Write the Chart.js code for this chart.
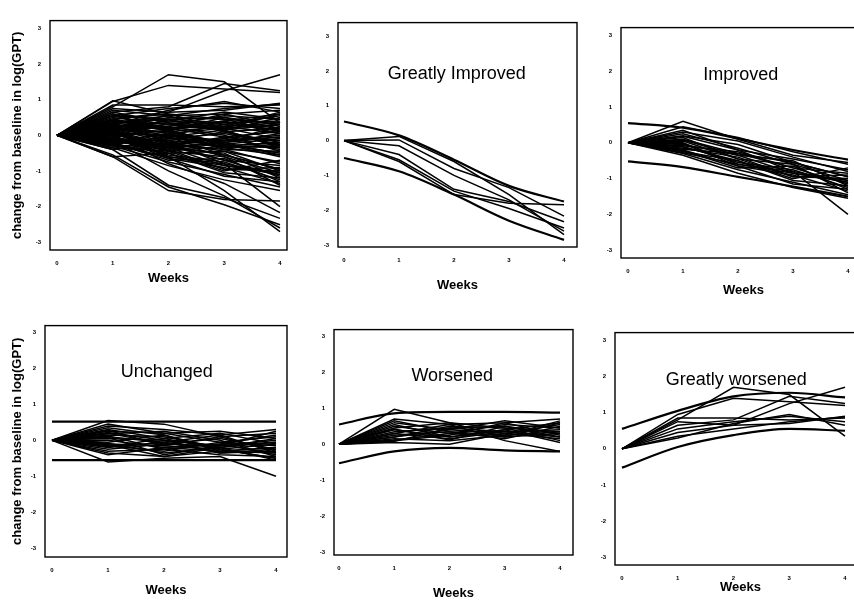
<!DOCTYPE html>
<html lang="en">
<head>
<meta charset="UTF-8">
<title>Change from baseline in log(GPT)</title>
<style>
    body {
        margin: 0;
        background: #fff;
        width: 854px;
        height: 602px;
        overflow: hidden;
        position: relative;
    }
    canvas {
        position: absolute;
    }
</style>
</head>
<body>
<script src="https://cdn.jsdelivr.net/npm/chart.js@4.4.1/dist/chart.umd.min.js"></script>
<script>
    // x axis: weeks, y axis ticks
    const weeks = [0, 1, 2, 3, 4];
    const yTicks = [3, 2, 1, 0, -1, -2, -3];

    // patient profiles (value at week 0..4), by outcome group
    const greatlyImproved = [
        [0, 0.12, -0.60, -1.55, -2.70],
        [0, 0.02, -0.80, -1.35, -2.17],
        [0, -0.40, -1.40, -1.75, -2.33],
        [0, -0.55, -1.45, -1.95, -2.51],
        [0, -0.60, -1.55, -1.80, -1.84],
        [0, -0.15, -1.00, -1.70, -2.60],
    ];
    const improved = [
        [0, 0.60, 0.10, -0.35, -0.55],
        [0, 0.45, 0.15, -0.25, -0.60],
        [0, 0.35, -0.20, -0.45, -0.75],
        [0, 0.20, -0.05, -0.55, -0.95],
        [0, 0.10, -0.30, -0.70, -0.85],
        [0, 0.05, -0.45, -0.60, -1.05],
        [0, -0.05, -0.35, -0.85, -1.10],
        [0, -0.10, -0.55, -0.75, -1.25],
        [0, -0.15, -0.40, -0.95, -0.90],
        [0, -0.20, -0.65, -0.90, -1.35],
        [0, -0.25, -0.50, -1.05, -1.20],
        [0, -0.30, -0.75, -1.10, -1.45],
        [0, -0.35, -0.85, -1.25, -1.55],
        [0, 0.00, -0.60, -0.80, -2.00],
        [0, -0.08, -0.25, -0.70, -1.15],
        [0, 0.15, -0.45, -0.95, -1.00],
        [0, -0.22, -0.70, -0.65, -1.30],
        [0, 0.25, -0.15, -0.60, -1.40],
        [0, -0.12, -0.50, -1.00, -0.70],
        [0, -0.28, -0.60, -0.85, -1.05],
        [0, 0.08, -0.35, -0.50, -1.20],
        [0, 0.30, 0.05, -0.40, -0.80],
        [0, -0.18, -0.30, -0.55, -0.95],
        [0, -0.02, -0.65, -1.15, -1.30],
        [0, 0.18, -0.20, -0.80, -1.10],
    ];
    const unchanged = [
        [0, 0.55, 0.45, 0.10, 0.20],
        [0, 0.40, 0.30, 0.15, 0.30],
        [0, 0.30, 0.05, 0.20, -0.10],
        [0, 0.25, 0.20, -0.05, 0.10],
        [0, 0.20, -0.10, 0.05, -0.25],
        [0, 0.15, 0.10, -0.20, 0.05],
        [0, 0.10, -0.05, 0.15, -0.35],
        [0, 0.05, 0.00, -0.15, -0.05],
        [0, 0.00, -0.20, -0.10, -0.40],
        [0, -0.05, 0.15, -0.30, -0.20],
        [0, -0.10, -0.15, -0.25, -0.50],
        [0, -0.15, -0.30, -0.05, -0.15],
        [0, -0.20, -0.05, -0.35, -0.30],
        [0, -0.30, -0.25, -0.40, -0.45],
        [0, -0.35, -0.45, -0.20, -0.55],
        [0, -0.60, -0.50, -0.45, -1.00],
        [0, 0.35, 0.15, -0.25, -0.10],
        [0, 0.12, -0.25, -0.10, 0.15],
        [0, -0.25, -0.10, -0.15, 0.00],
        [0, 0.22, 0.00, -0.35, -0.25],
        [0, -0.08, -0.35, -0.20, -0.05],
        [0, 0.18, 0.25, 0.00, -0.45],
        [0, -0.40, -0.20, -0.30, -0.35],
        [0, 0.08, -0.40, -0.15, 0.25],
        [0, -0.18, 0.05, -0.25, -0.50],
        [0, 0.45, 0.20, 0.25, 0.05],
        [0, -0.12, -0.45, -0.30, -0.20],
        [0, 0.28, -0.15, 0.10, -0.30],
    ];
    const worsened = [
        [0, 0.97, 0.60, 0.45, 0.35],
        [0, 0.70, 0.55, 0.60, 0.70],
        [0, 0.60, 0.40, 0.30, 0.55],
        [0, 0.50, 0.30, 0.55, 0.45],
        [0, 0.45, 0.60, 0.20, 0.30],
        [0, 0.40, 0.20, 0.40, 0.60],
        [0, 0.35, 0.45, 0.50, 0.20],
        [0, 0.30, 0.15, 0.35, 0.40],
        [0, 0.25, 0.35, 0.15, 0.50],
        [0, 0.20, 0.50, 0.45, 0.10],
        [0, 0.15, 0.10, 0.25, 0.35],
        [0, 0.10, 0.25, 0.60, 0.25],
        [0, 0.05, 0.00, 0.30, 0.15],
        [0, 0.30, 0.55, 0.10, -0.20],
        [0, 0.55, 0.20, 0.40, 0.05],
        [0, 0.20, 0.40, 0.65, 0.45],
        [0, 0.12, 0.30, 0.20, 0.60],
        [0, 0.42, 0.12, 0.50, 0.30],
        [0, 0.65, 0.35, 0.25, 0.65],
        [0, 0.08, 0.45, 0.35, 0.20],
    ];
    const greatlyWorsened = [
        [0, 0.80, 1.70, 1.50, 0.35],
        [0, 0.95, 1.40, 1.30, 1.20],
        [0, 0.45, 0.65, 1.25, 1.70],
        [0, 0.85, 0.85, 0.80, 0.85],
        [0, 0.55, 0.75, 0.90, 0.75],
        [0, 0.30, 0.70, 0.95, 0.65],
        [0, 0.35, 0.55, 0.75, 0.88],
        [0, 0.75, 0.65, 0.70, 0.90],
        [0, 0.65, 0.80, 1.45, 1.25],
    ];

    // upper / lower reference curves for each group
    const envGreatlyImproved = [[0.55, 0.15, -0.55, -1.30, -1.75], [-0.50, -0.88, -1.55, -2.30, -2.85]];
    const envImproved = [[0.55, 0.42, 0.12, -0.20, -0.47], [-0.52, -0.68, -0.95, -1.22, -1.50]];
    const envUnchanged = [[0.52, 0.52, 0.52, 0.52, 0.52], [-0.55, -0.55, -0.55, -0.55, -0.55]];
    const envWorsened = [[0.55, 0.86, 0.90, 0.90, 0.88], [-0.53, -0.20, -0.10, -0.17, -0.20]];
    const envGreatlyWorsened = [[0.55, 1.05, 1.45, 1.55, 1.42], [-0.52, 0.05, 0.38, 0.55, 0.50]];

    const allPatients = [...greatlyImproved, ...improved, ...unchanged, ...worsened, ...greatlyWorsened];

    //패널 위치: box = 플롯 영역, xt = 0주/4주 눈금 위치, yt = 3/-3 눈금 위치
    const panels = [
        { title: "", lines: allPatients, env: null, box: [50, 13, 287, 250], xt: [57, 280], yt: [21, 242], weeksY: 278, yLabel: true },
        { title: "Greatly Improved", lines: greatlyImproved, env: envGreatlyImproved, box: [338, 15, 577, 247], xt: [344, 564], yt: [29, 245], weeksY: 285 },
        { title: "Improved", lines: improved, env: envImproved, box: [621, 20, 866, 258], xt: [628, 848], yt: [28, 250], weeksY: 290 },
        { title: "Unchanged", lines: unchanged, env: envUnchanged, box: [45, 318, 287, 557], xt: [52, 276], yt: [325, 548], weeksY: 590, yLabel: true },
        { title: "Worsened", lines: worsened, env: envWorsened, box: [334, 322, 573, 555], xt: [339, 560], yt: [329, 552], weeksY: 593 },
        { title: "Greatly worsened", lines: greatlyWorsened, env: envGreatlyWorsened, box: [615, 325, 866, 565], xt: [622, 845], yt: [333, 557], weeksY: 587 },
    ];

    const font = '"Liberation Sans", Arial, sans-serif';

    // 테두리 + 패널 제목
    const framePlugin = {
        id: "frame",
        afterDatasetsDraw(chart, args, opts) {
            const { ctx, chartArea: a, scales } = chart;
            ctx.save();
            ctx.strokeStyle = "#000";
            ctx.lineWidth = 1.4;
            ctx.strokeRect(a.left, a.top, a.right - a.left, a.bottom - a.top);
            if (opts.text) {
                ctx.fillStyle = "#000";
                ctx.font = "18px " + font;
                ctx.textAlign = "center";
                ctx.textBaseline = "middle";
                ctx.fillText(opts.text, scales.x.getPixelForValue(2.05), scales.y.getPixelForValue(1.9));
            }
            ctx.restore();
        },
    };

    const toPoints = (vals) => weeks.map((w, i) => ({ x: w, y: vals[i] }));

    panels.forEach((p) => {
        const [l, t, r, b] = p.box;
        const kx = (p.xt[1] - p.xt[0]) / 4;
        const ky = (p.yt[1] - p.yt[0]) / 6;
        const xMin = -(p.xt[0] - l) / kx;
        const xMax = 4 + (r - p.xt[1]) / kx;
        const yMax = 3 + (p.yt[0] - t) / ky;
        const yMin = -3 - (b - p.yt[1]) / ky;

        const yW = p.yLabel ? l - 10 : 30;
        const xH = p.weeksY - b + 8;
        const padTop = 5;
        const padRight = 5;

        const canvas = document.createElement("canvas");
        canvas.width = yW + (r - l) + padRight;
        canvas.height = padTop + (b - t) + xH;
        canvas.style.left = (l - yW) + "px";
        canvas.style.top = (t - padTop) + "px";
        document.body.appendChild(canvas);

        const datasets = p.lines.map((v) => ({
            data: toPoints(v),
            borderColor: "#000",
            borderWidth: 1.5,
            pointRadius: 0,
            tension: 0,
        }));
        if (p.env) {
            p.env.forEach((v) => datasets.push({
                data: toPoints(v),
                borderColor: "#000",
                borderWidth: 2.2,
                pointRadius: 0,
                cubicInterpolationMode: "monotone",
            }));
        }

        new Chart(canvas, {
            type: "line",
            data: { datasets },
            options: {
                responsive: false,
                animation: false,
                layout: { padding: { top: padTop, right: padRight, left: 0, bottom: 0 } },
                plugins: {
                    legend: { display: false },
                    tooltip: { enabled: false },
                    frame: { text: p.title },
                },
                scales: {
                    x: {
                        type: "linear",
                        min: xMin,
                        max: xMax,
                        afterBuildTicks: (s) => { s.ticks = weeks.map((v) => ({ value: v })); },
                        afterFit: (s) => { s.height = xH; },
                        grid: { display: false, drawTicks: false },
                        border: { display: false },
                        ticks: { padding: 10, maxRotation: 0, color: "#000", font: { size: 6, weight: "bold", family: font } },
                        title: { display: true, text: "Weeks", color: "#000", padding: 0, font: { size: 13, weight: "bold", family: font } },
                    },
                    y: {
                        type: "linear",
                        min: yMin,
                        max: yMax,
                        afterBuildTicks: (s) => { s.ticks = yTicks.map((v) => ({ value: v })); },
                        afterFit: (s) => { s.width = yW; },
                        grid: { display: false, drawTicks: false },
                        border: { display: false },
                        ticks: { padding: 9, color: "#000", font: { size: 6, weight: "bold", family: font } },
                        title: {
                            display: !!p.yLabel,
                            text: "change from baseline in log(GPT)",
                            color: "#000",
                            padding: 0,
                            font: { size: 13, weight: "bold", family: font },
                        },
                    },
                },
            },
            plugins: [framePlugin],
        });
    });
</script>
</body>
</html>
